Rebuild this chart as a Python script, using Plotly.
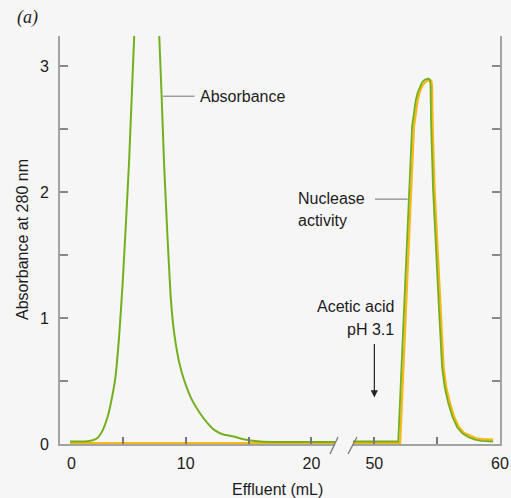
import plotly.graph_objects as go

# ---------------- data ----------------
# Left part of the broken effluent axis (0-22 mL)
abs_left_x = [0.8, 2.0, 2.6, 3.0, 3.4, 3.8, 4.1, 4.4, 4.7, 5.0, 5.5, 5.9, 6.3, 6.8, 7.3,
              7.9, 8.27, 8.55, 8.8, 9.0, 9.2, 9.5, 9.9, 10.5, 11.1, 11.7, 12.3, 13.0, 13.8,
              14.5, 15.9, 18.0, 21.9]
abs_left_y = [0.02, 0.02, 0.03, 0.05, 0.11, 0.22, 0.35, 0.52, 0.85, 1.3, 2.25, 3.23, 4.0, 4.3, 4.0,
              3.23, 2.25, 1.65, 1.18, 0.95, 0.8, 0.64, 0.5, 0.35, 0.25, 0.17, 0.11, 0.075, 0.06,
              0.04, 0.02, 0.015, 0.015]
nuc_left_x = [0.8, 21.9]
nuc_left_y = [0.008, 0.008]

# Right part of the broken effluent axis (48-60 mL)
abs_right_x = [48.3, 51.9, 53.0, 53.15, 53.3, 53.45, 53.6, 53.8, 54.0, 54.3, 54.42, 54.47,
               54.52, 54.67, 55.15, 55.39, 55.6, 55.87, 56.2, 56.58, 57.0, 57.5, 58.0, 58.5, 59.45]
abs_right_y = [0.02, 0.02, 2.52, 2.65, 2.73, 2.79, 2.83, 2.87, 2.89, 2.90, 2.89, 2.85,
               2.52, 2.03, 1.06, 0.61, 0.45, 0.33, 0.22, 0.135, 0.085, 0.055, 0.035, 0.025, 0.02]
nuc_right_x = [48.3, 52.05, 53.15, 53.3, 53.45, 53.6, 53.75, 53.95, 54.15, 54.42, 54.54, 54.59,
               54.64, 54.79, 55.27, 55.51, 55.72, 56.0, 56.33, 56.7, 57.12, 57.6, 58.1, 58.6, 59.45]
nuc_right_y = [0.008, 0.008, 2.52, 2.65, 2.73, 2.79, 2.83, 2.86, 2.88, 2.89, 2.88, 2.84,
               2.52, 2.03, 1.06, 0.61, 0.45, 0.33, 0.22, 0.14, 0.09, 0.065, 0.045, 0.038, 0.035]

y_tickvals = [0, 0.5, 1, 1.5, 2, 2.5, 3]
y_ticktext = ["0", "", "1", "", "2", "", "3"]
x_left_tickvals = [5, 10, 15, 20]
x_left_ticktext = ["", "10", "", "20"]
x_right_tickvals = [50, 55, 60]
x_right_ticktext = ["50", "", "60"]

# ---------------- style ----------------
GREEN = "#72b01f"
ORANGE = "#f7b815"
AXIS = "#a3a3a3"
TXT = "#1c1c1c"
BG = "#f6f6f6"
FONT = "Liberation Sans, Arial, sans-serif"
FS = 16

# plot-area geometry (pixels) used to place paper-referenced labels
L, R, T, B = 60, 500, 36, 444


def px(xp):
    return (xp - L) / (R - L)


def py(yp):
    return (B - yp) / (B - T)


fig = go.Figure()
fig.add_trace(go.Scatter(x=nuc_left_x, y=nuc_left_y, mode="lines", xaxis="x", yaxis="y",
                         line=dict(color=ORANGE, width=2)))
fig.add_trace(go.Scatter(x=abs_left_x, y=abs_left_y, mode="lines", xaxis="x", yaxis="y",
                         line=dict(color=GREEN, width=2, shape="spline", smoothing=0.5)))
fig.add_trace(go.Scatter(x=nuc_right_x, y=nuc_right_y, mode="lines", xaxis="x2", yaxis="y2",
                         line=dict(color=ORANGE, width=2.2)))
fig.add_trace(go.Scatter(x=abs_right_x, y=abs_right_y, mode="lines", xaxis="x2", yaxis="y2",
                         line=dict(color=GREEN, width=1.8)))

common_x = dict(showline=True, linecolor=AXIS, linewidth=2, ticks="inside", ticklen=7,
                tickwidth=1.5, tickcolor="#777", showgrid=False, zeroline=False,
                automargin=False,
                tickfont=dict(family=FONT, size=FS, color=TXT), ticklabelstandoff=4)
common_y = dict(range=[0, 3.238], showline=True, linecolor=AXIS, linewidth=2, ticks="inside",
                ticklen=8, tickwidth=1.5, tickcolor="#888", showgrid=False, zeroline=False,
                automargin=False, tickvals=y_tickvals, ticktext=y_ticktext)

annotations = [
    dict(text="0", x=0.95, y=0, xref="x", yref="y", yshift=-19, showarrow=False,
         font=dict(family=FONT, size=FS, color=TXT)),
    dict(text="<i>(a)</i>", x=px(27), y=py(18), xref="paper", yref="paper",
         xanchor="center", yanchor="middle", showarrow=False,
         font=dict(family="Liberation Serif, serif", size=18, color=TXT)),
    dict(text="Absorbance at 280 nm", x=px(22), y=py(240), xref="paper", yref="paper",
         xanchor="center", yanchor="middle",
         textangle=-90, showarrow=False, font=dict(family=FONT, size=FS, color=TXT)),
    dict(text="Effluent (mL)", x=px(277), y=py(489), xref="paper", yref="paper",
         xanchor="center", yanchor="middle",
         showarrow=False, font=dict(family=FONT, size=FS, color=TXT)),
    dict(text="Absorbance", x=11.0, y=2.76, xref="x", yref="y", xanchor="left",
         showarrow=False, font=dict(family=FONT, size=FS, color=TXT)),
    dict(text="Nuclease", x=18.8, y=1.95, xref="x", yref="y", xanchor="left",
         showarrow=False, font=dict(family=FONT, size=FS, color=TXT)),
    dict(text="activity", x=18.8, y=1.775, xref="x", yref="y", xanchor="left",
         showarrow=False, font=dict(family=FONT, size=FS, color=TXT)),
    dict(text="Acetic acid", x=51.7, y=1.09, xref="x2", yref="y2", xanchor="right",
         showarrow=False, font=dict(family=FONT, size=FS, color=TXT)),
    dict(text="pH 3.1", x=51.7, y=0.905, xref="x2", yref="y2", xanchor="right",
         showarrow=False, font=dict(family=FONT, size=FS, color=TXT)),
    dict(text="", x=50, y=0.37, xref="x2", yref="y2", ax=0, ay=-55, showarrow=True,
         arrowhead=2, arrowsize=1.2, arrowwidth=1.2, arrowcolor="#222"),
]

shapes = [
    # leader lines
    dict(type="line", xref="x", yref="y", x0=8.2, x1=10.7, y0=2.76, y1=2.76,
         line=dict(color="#888", width=1.2)),
    dict(type="line", xref="x2", yref="y2", x0=50.05, x1=52.65, y0=1.944, y1=1.944,
         line=dict(color="#888", width=1.2)),
    # axis break marks
    dict(type="line", xref="paper", yref="paper", x0=px(330), y0=py(454), x1=px(338), y1=py(437),
         line=dict(color="#777", width=1.3)),
    dict(type="line", xref="paper", yref="paper", x0=px(348), y0=py(454), x1=px(357), y1=py(437),
         line=dict(color="#777", width=1.3)),
]

fig.update_layout(
    width=511, height=498,
    margin=dict(l=L, r=511 - R, t=T, b=498 - B, autoexpand=False),
    paper_bgcolor=BG, plot_bgcolor=BG,
    showlegend=False, hovermode=False,
    xaxis=dict(domain=[0, px(335)], range=[0, 21.88], anchor="y",
               tickvals=x_left_tickvals, ticktext=x_left_ticktext, **common_x),
    xaxis2=dict(domain=[px(353), 1], range=[48.3, 60], anchor="y2",
                tickvals=x_right_tickvals, ticktext=x_right_ticktext, **common_x),
    yaxis=dict(anchor="x", tickfont=dict(family=FONT, size=FS, color=TXT),
               ticklabelstandoff=6, **common_y),
    yaxis2=dict(anchor="x2", side="right", matches="y", showticklabels=False, **common_y),
    annotations=annotations,
    shapes=shapes,
)

fig.write_html("out.html")
